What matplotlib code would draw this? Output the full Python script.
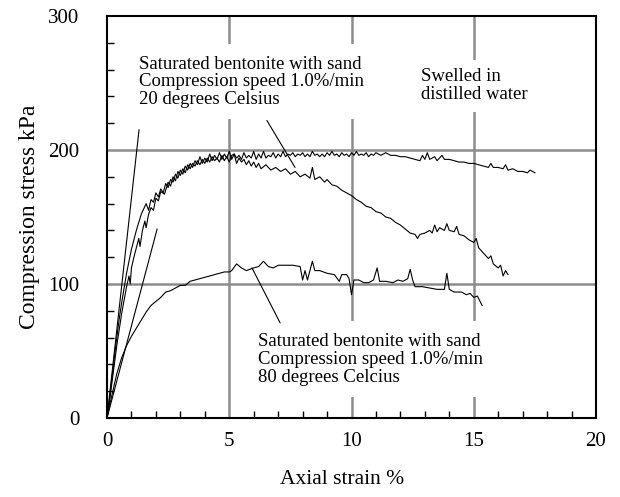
import matplotlib
matplotlib.use("Agg")
import matplotlib.pyplot as plt
from matplotlib.ticker import MultipleLocator

plt.rcParams['font.family'] = ['Liberation Serif', 'DejaVu Serif']

# ---- data ----
strain_a = [0, 0.1, 0.2, 0.3, 0.4, 0.5, 0.6, 0.7, 0.8, 0.9, 1.0, 1.1, 1.2, 1.3, 1.4,
            1.5, 1.6, 1.7, 1.8, 1.9, 2.0, 2.1, 2.2, 2.3, 2.4, 2.5, 2.6, 2.7, 2.8, 2.9,
            3.0, 3.1, 3.2, 3.3, 3.4, 3.5, 3.6, 3.7, 3.8, 3.9, 4.0, 4.1, 4.2, 4.3, 4.4,
            4.5, 4.6, 4.7, 4.8, 4.9, 5.0, 5.1, 5.2, 5.3, 5.4, 5.5, 5.6, 5.7, 5.8, 5.9,
            6.0, 6.1, 6.2, 6.3, 6.4, 6.5, 6.6, 6.7, 6.8, 6.9, 7.0, 7.1, 7.2, 7.3, 7.4,
            7.5, 7.6, 7.7, 7.8, 7.9, 8.0, 8.1, 8.2, 8.3, 8.4, 8.5, 8.6, 8.7, 8.8, 8.9,
            9.0, 9.1, 9.2, 9.3, 9.4, 9.5, 9.6, 9.7, 9.8, 9.9, 10.0, 10.1, 10.2, 10.3, 10.4,
            10.5, 10.6, 10.7, 10.8, 10.9, 11.0, 11.2, 11.4, 11.6, 11.8, 12.0, 12.2, 12.4,
            12.6, 12.8, 12.9, 13.0, 13.1, 13.2, 13.4, 13.5, 13.7, 13.8, 14.0, 14.2, 14.4,
            14.6, 14.8, 15.0, 15.2, 15.4, 15.6, 15.7, 15.8, 16.0, 16.2, 16.3, 16.4, 16.6,
            16.8, 17.0, 17.2, 17.3, 17.5]
stress_a = [0, 14, 30, 45, 60, 74, 86, 97, 108, 117, 126, 133, 140, 146, 152,
            156, 160, 155, 163, 161, 168, 165, 171, 168, 175, 172, 178, 176, 182, 179,
            185, 182, 188, 185, 190, 187, 192, 189, 195, 190, 194, 191, 197, 192, 196,
            193, 198, 193, 197, 194, 199, 193, 197, 194, 196, 193, 198, 194, 196, 194,
            199, 193, 197, 194, 199, 194, 196, 195, 198, 194, 197, 195, 199, 195, 197,
            196, 198, 195, 197, 196, 198, 195, 197, 195, 199, 196, 197, 195, 197, 195,
            198, 196, 199, 196, 197, 195, 198, 196, 197, 195, 198, 196, 199, 196, 197,
            196, 198, 195, 197, 196, 198, 196, 198, 196, 196, 195, 195, 194,
            193, 192, 196, 193, 198, 193, 195, 192, 196, 193, 193, 192, 191,
            191, 190, 190, 189, 188, 187, 190, 187, 187, 186, 189, 185, 186,
            184, 184, 183, 185, 183]

strain_b = [0, 0.1, 0.2, 0.3, 0.4, 0.5, 0.6, 0.7, 0.8, 0.9, 0.95, 1.0, 1.1, 1.2, 1.3, 1.35, 1.45,
            1.55, 1.6, 1.7, 1.8, 1.9, 2.0, 2.1, 2.2, 2.35, 2.5, 2.6, 2.7, 2.8, 2.9, 3.0, 3.1, 3.2,
            3.3, 3.4, 3.5, 3.6, 3.7, 3.8, 3.9, 4.0, 4.1, 4.2, 4.3, 4.4, 4.5, 4.6, 4.7, 4.8, 4.9,
            5.0, 5.1, 5.2, 5.3, 5.4, 5.5, 5.6, 5.7, 5.8, 5.9, 6.0, 6.1, 6.2, 6.3, 6.5, 6.7, 6.9,
            7.1, 7.3, 7.5, 7.7, 7.9, 8.1, 8.3, 8.4, 8.5, 8.7, 8.9, 9.0, 9.2, 9.4, 9.6, 9.8, 10.0,
            10.2, 10.4, 10.6, 10.8, 11.0, 11.2, 11.4, 11.6, 11.8, 12.0, 12.2, 12.4, 12.6, 12.7,
            12.8, 13.0, 13.2, 13.3, 13.4, 13.5, 13.6, 13.8, 13.9, 14.0, 14.2, 14.3, 14.4, 14.6,
            14.8, 15.0, 15.1, 15.2, 15.4, 15.6, 15.7, 15.8, 16.0, 16.1, 16.2, 16.3, 16.4]
stress_b = [0, 12, 26, 40, 54, 66, 78, 88, 98, 106, 100, 112, 120, 127, 134, 128, 140,
            147, 142, 152, 157, 155, 164, 162, 169, 167, 176, 173, 180, 177, 184, 181, 186, 183,
            189, 186, 190, 188, 192, 189, 193, 190, 194, 191, 195, 192, 194, 191, 196, 192, 195,
            191, 196, 197, 190, 194, 191, 193, 189, 192, 188, 191, 187, 190, 186, 189, 185, 187,
            184, 186, 182, 184, 180, 182, 179, 187, 178, 180, 176, 178, 174, 173, 170, 168, 166,
            163, 161, 158, 157, 154, 153, 150, 149, 146, 144, 141, 138, 137, 134,
            137, 138, 140, 138, 144, 139, 142, 140, 145, 140, 139, 143, 137, 136,
            133, 131, 134, 127, 123, 119, 121, 115, 112, 114, 106, 110, 107]

strain_80 = [0, 0.2, 0.4, 0.6, 0.8, 1.0, 1.2, 1.4, 1.6, 1.8, 2.0, 2.2, 2.4, 2.6, 2.8, 3.0, 3.2,
             3.4, 3.6, 3.8, 4.0, 4.2, 4.4, 4.6, 4.8, 5.0, 5.1, 5.3, 5.5, 5.7, 6.0, 6.2, 6.4, 6.6,
             6.8, 7.0, 7.3, 7.6, 7.9, 8.0, 8.1, 8.2, 8.3, 8.4, 8.5, 8.7, 9.0, 9.3, 9.5, 9.6, 9.8,
             9.9, 10.0, 10.1, 10.3, 10.5, 10.7, 10.9, 11.05, 11.15, 11.4, 11.7, 11.9, 12.1, 12.3,
             12.4, 12.5, 12.6, 12.9, 13.2, 13.5, 13.8, 13.9, 14.0, 14.2, 14.5, 14.7, 14.85, 15.0,
             15.15, 15.34]
stress_80 = [0, 17, 33, 45, 54, 61, 67, 73, 79, 84, 87, 90, 94, 95, 97, 99, 99,
             102, 103, 104, 105, 106, 107, 108, 109, 109, 110, 115, 112, 110, 112, 113, 117, 113,
             112, 114, 114, 114, 113, 103, 110, 103, 110, 117, 110, 110, 108, 107, 102, 107, 107,
             104, 92, 103, 103, 101, 101, 103, 112, 102, 102, 101, 103, 102, 104,
             111, 103, 98, 98, 97, 96, 96, 108, 96, 94, 94, 92, 93, 90,
             91, 84]

# initial tangent lines (end points)
tangent_strain = [1.31, 2.05]
tangent_stress = [215, 141]

label_20 = "Saturated bentonite with sand\nCompression speed 1.0%/min\n20 degrees Celsius"
label_80 = "Saturated bentonite with sand\nCompression speed 1.0%/min\n80 degrees Celcius"
label_sw = "Swelled in\ndistilled water"

x_ticks = [0, 5, 10, 15, 20]
y_ticks = [0, 100, 200, 300]

# ---- figure ----
fig = plt.figure(figsize=(6.2, 4.97), dpi=100)
ax = fig.add_axes([107/620, 1-418/497, (596-107)/620, (418-16)/497])

ax.set_xlim(0, 20)
ax.set_ylim(0, 300)

grid_col = '#8c8c8c'
for gx in [5, 10, 15]:
    ax.axvline(gx, color=grid_col, lw=1.8, zorder=1)
for gy in [100, 200]:
    ax.axhline(gy, color=grid_col, lw=1.8, zorder=1)

lw = 0.8
ax.plot(strain_a, stress_a, color='black', lw=lw, zorder=3)
ax.plot(strain_b, stress_b, color='black', lw=lw, zorder=3)
ax.plot(strain_80, stress_80, color='black', lw=lw, zorder=3)
for tx, ty in zip(tangent_strain, tangent_stress):
    ax.plot([0, tx], [0, ty], color='black', lw=lw, zorder=3)

ax.set_xticks(x_ticks)
ax.set_yticks(y_ticks)
ax.xaxis.set_minor_locator(MultipleLocator(1))
ax.yaxis.set_minor_locator(MultipleLocator(20))
ax.tick_params(which='both', direction='in', top=False, right=False)
ax.tick_params(which='major', length=0, labelsize=15)
ax.tick_params(axis='x', which='major', pad=10)
ax.tick_params(axis='y', which='major', pad=20)
ax.tick_params(which='minor', length=5, width=1)

for s in ax.spines.values():
    s.set_linewidth(1.5)

ax.set_xlabel("Axial strain %", fontsize=15.5, labelpad=12)
ax.xaxis.set_label_coords(0.48, -0.13)
ax.set_ylabel("Compression stress kPa", fontsize=17, labelpad=6)

box = dict(facecolor='white', edgecolor='none', pad=8)
ax.text(1.31, 251, label_20, fontsize=13.5, ha='left', va='center', linespacing=1.05,
        bbox=box, zorder=4)
ax.text(12.85, 248, label_sw, fontsize=13.5, ha='left', va='center', linespacing=1.1,
        bbox=dict(facecolor='white', edgecolor='none', pad=6), zorder=4)
ax.text(6.18, 44, label_80, fontsize=13.5, ha='left', va='center', linespacing=1.08,
        bbox=box, zorder=4)

ax.annotate('', xy=(7.69, 187), xytext=(6.54, 222),
            arrowprops=dict(arrowstyle='-', lw=0.8, color='black', shrinkA=0, shrinkB=0), zorder=5)
ax.annotate('', xy=(5.93, 112), xytext=(7.08, 71),
            arrowprops=dict(arrowstyle='-', lw=0.8, color='black', shrinkA=0, shrinkB=0), zorder=5)

fig.savefig('out.png', dpi=100)
